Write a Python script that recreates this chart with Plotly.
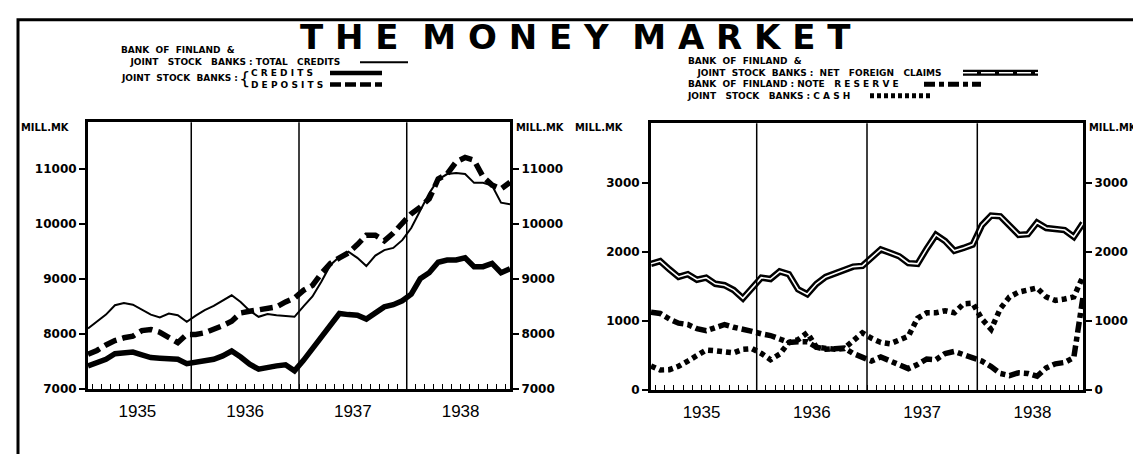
import plotly.graph_objects as go

W, H = 1141, 454

months = list(range(48))
year_labels = ["1935", "1936", "1937", "1938"]
year_label_pos = [5.5, 17.5, 29.5, 41.5]
year_bounds = [11.5, 23.5, 35.5]

total_credits = [8100, 8230, 8350, 8520, 8560, 8530, 8440, 8350, 8300, 8370, 8340, 8220,
                 8330, 8430, 8510, 8600, 8700, 8580, 8420, 8310, 8360, 8340, 8320, 8310,
                 8500, 8680, 8950, 9250, 9400, 9490, 9380, 9230, 9420, 9520, 9560, 9700,
                 9920, 10250, 10550, 10800, 10900, 10920, 10900, 10740, 10740, 10690, 10380, 10350]
jsb_credits = [7420, 7470, 7540, 7640, 7650, 7670, 7620, 7570, 7560, 7550, 7540, 7460,
               7480, 7510, 7540, 7600, 7690, 7580, 7450, 7360, 7400, 7420, 7440, 7330,
               7520, 7730, 7920, 8150, 8370, 8350, 8340, 8270, 8380, 8490, 8530, 8600,
               8720, 9000, 9110, 9300, 9340, 9340, 9380, 9220, 9220, 9280, 9110, 9180]
jsb_deposits = [7630, 7700, 7800, 7880, 7930, 7960, 8060, 8080, 8030, 7940, 7840, 7990,
                7990, 8020, 8080, 8150, 8230, 8380, 8410, 8430, 8460, 8490, 8580, 8650,
                8790, 8880, 9100, 9280, 9380, 9470, 9620, 9790, 9790, 9690, 9830, 10020,
                10180, 10300, 10450, 10810, 10900, 11120, 11200, 11150, 10850, 10700, 10630, 10750]

net_foreign = [1830, 1870, 1750, 1640, 1680, 1600, 1630, 1540, 1520, 1450, 1330, 1480,
               1630, 1610, 1720, 1680, 1460, 1390, 1540, 1640, 1690, 1740, 1790, 1800,
               1920, 2040, 1990, 1940, 1840, 1830, 2050, 2250, 2160, 2020, 2060, 2110,
               2390, 2530, 2520, 2380, 2250, 2260, 2430, 2350, 2330, 2320, 2220, 2420]
note_reserve = [1130, 1110, 1030, 970, 950, 890, 860, 910, 950, 910, 890, 850,
                815, 790, 740, 690, 700, 700, 620, 590, 600, 610, 530, 470,
                420, 480, 430, 360, 310, 370, 450, 440, 530, 560, 510, 460,
                420, 340, 240, 210, 250, 240, 200, 320, 380, 400, 470, 1350]
jsb_cash = [350, 290, 295, 345, 420, 500, 580, 570, 550, 540, 590, 600,
            530, 440, 520, 690, 730, 830, 620, 610, 590, 600, 720, 830,
            750, 690, 670, 720, 780, 1040, 1120, 1120, 1150, 1120, 1250, 1260,
            1030, 880, 1180, 1350, 1420, 1450, 1480, 1350, 1300, 1320, 1350, 1650]

left_ticks = [7000, 8000, 9000, 10000, 11000]
right_ticks = [0, 1000, 2000, 3000]


def px(x):
    return x / W


def py(y):
    return 1 - y / H


fig = go.Figure()

# left chart
fig.add_trace(go.Scatter(x=months, y=total_credits, mode="lines",
                         line=dict(color="black", width=2), xaxis="x", yaxis="y"))
fig.add_trace(go.Scatter(x=months, y=jsb_credits, mode="lines",
                         line=dict(color="black", width=5.5), xaxis="x", yaxis="y"))
fig.add_trace(go.Scatter(x=months, y=jsb_deposits, mode="lines",
                         line=dict(color="black", width=5.5, dash="13px,6px"), xaxis="x", yaxis="y2"))

# right chart
fig.add_trace(go.Scatter(x=months, y=net_foreign, mode="lines",
                         line=dict(color="black", width=6.5), xaxis="x2", yaxis="y3"))
fig.add_trace(go.Scatter(x=months, y=net_foreign, mode="lines",
                         line=dict(color="white", width=1.6), xaxis="x2", yaxis="y3"))
fig.add_trace(go.Scatter(x=months, y=note_reserve, mode="lines",
                         line=dict(color="black", width=5.5, dash="11px,4px,5px,4px"), xaxis="x2", yaxis="y3"))
fig.add_trace(go.Scatter(x=months, y=jsb_cash, mode="lines",
                         line=dict(color="black", width=5.5, dash="5px,4px"), xaxis="x2", yaxis="y4"))

xcommon = dict(range=[0, 47], showline=True, linewidth=3, linecolor="black", mirror=True,
               ticks="", tickmode="array", tickvals=year_label_pos, ticktext=year_labels,
               tickfont=dict(family="Liberation Sans", size=17, color="black"),
               ticklabelstandoff=5, showgrid=False, zeroline=False,
               minor=dict(ticks="inside", ticklen=5, tickwidth=1.3, tickcolor="black",
                          tickmode="linear", tick0=-0.5, dtick=1, showgrid=False))
ycommon = dict(showline=True, linewidth=3, linecolor="black", ticks="outside", ticklen=6,
               tickwidth=1.5, tickcolor="black", showgrid=False, zeroline=False,
               tickfont=dict(family="DejaVu Sans", size=12, color="black", weight="bold"),
               tickmode="array", tickformat="d")

left_range = [7000, 11840]
right_range = [0, 3870]

fig.update_layout(
    width=W, height=H, margin=dict(l=0, r=0, t=0, b=0),
    paper_bgcolor="white", plot_bgcolor="white", showlegend=False,
    xaxis=dict(domain=[px(80), px(502)], anchor="y", **xcommon),
    yaxis=dict(domain=[py(387), py(116)], anchor="x", range=left_range, side="left",
               tickvals=left_ticks, ticktext=[str(v) for v in left_ticks], **ycommon),
    yaxis2=dict(range=left_range, overlaying="y", anchor="x", side="right",
                tickvals=left_ticks, ticktext=[str(v) for v in left_ticks], **ycommon),
    xaxis2=dict(domain=[px(643), px(1075)], anchor="y3", **xcommon),
    yaxis3=dict(domain=[py(388), py(117)], anchor="x2", range=right_range, side="left",
                tickvals=right_ticks, ticktext=[str(v) for v in right_ticks], **ycommon),
    yaxis4=dict(range=right_range, overlaying="y3", anchor="x2", side="right",
                tickvals=right_ticks, ticktext=[str(v) for v in right_ticks], **ycommon),
)

shapes = []
for xb in year_bounds:
    for xr, yr in (("x", "y domain"), ("x2", "y3 domain")):
        shapes.append(dict(type="line", xref=xr, yref=yr, x0=xb, x1=xb, y0=0, y1=1,
                           line=dict(color="black", width=1.5), layer="above"))

# outer frame
shapes.append(dict(type="rect", xref="paper", yref="paper", x0=px(10), x1=px(1137),
                   y0=-0.05, y1=py(12), line=dict(color="black", width=3)))


def sample(x0, x1, y, width, dash="solid", color="black"):
    shapes.append(dict(type="line", xref="paper", yref="paper", x0=px(x0), x1=px(x1),
                       y0=py(y), y1=py(y), line=dict(color=color, width=width, dash=dash)))


# left legend samples
sample(352, 400, 55, 2)
sample(322, 374, 66, 4.5)
sample(322, 374, 77.7, 4.5, "11px,4px")
# right legend samples
sample(955, 1030, 65.7, 6)
sample(955, 1030, 65.7, 1.4, "14px,4px", "white")
sample(916, 973, 77.4, 5, "11px,4px,5px,4px")
sample(862, 925, 89, 5, "4px,3px")
fig.update_layout(shapes=shapes)

lf = dict(family="DejaVu Sans", size=9, color="black", weight="bold")
ann = []


def text(x, y, t, font=lf, xanchor="left"):
    ann.append(dict(x=px(x), y=py(y), xref="paper", yref="paper", text=t, showarrow=False,
                    xanchor=xanchor, yanchor="middle", align="left", font=font, borderpad=0))


n = "\u00a0"
text(567, 29.5, f"T H E{n*2}M O N E Y{n*2}M A R K E T",
     dict(family="DejaVu Sans", size=34, color="black", weight="bold"), "center")

text(112, 43, f"BANK{n*2}OF{n*2}FINLAND{n*2}&")
text(112, 55, f"{n*3}JOINT{n*3}STOCK{n*3}BANKS{n}:{n}TOTAL{n*3}CREDITS")
text(112, 71, f"JOINT{n*2}STOCK{n*2}BANKS{n}:")
text(230, 72, "{", dict(family="DejaVu Sans", size=18, color="black"))
text(242, 71.85, f"C{n}R{n}E{n}D{n}I{n}T{n}S<br>D{n}E{n}P{n}O{n}S{n}I{n}T{n}S")

text(678, 71.5, f"BANK{n*2}OF{n*2}FINLAND{n*2}&<br>"
                f"{n*3}JOINT{n*2}STOCK{n*2}BANKS{n}:{n*2}NET{n*3}FOREIGN{n*3}CLAIMS<br>"
                f"BANK{n*2}OF{n*2}FINLAND{n}:{n}NOTE{n*3}R{n}E{n}S{n}E{n}R{n}V{n}E<br>"
                f"JOINT{n*3}STOCK{n*3}BANKS{n}:{n}C{n}A{n}S{n}H")

mf = dict(family="DejaVu Sans Condensed", size=11, color="black", weight="bold")
text(12, 121, "MILL.MK", mf)
text(507, 121, "MILL.MK", mf)
text(566, 121, "MILL.MK", mf)
text(1080, 121, "MILL.MK", mf)

fig.update_layout(annotations=ann)

fig.write_html("out.html")
